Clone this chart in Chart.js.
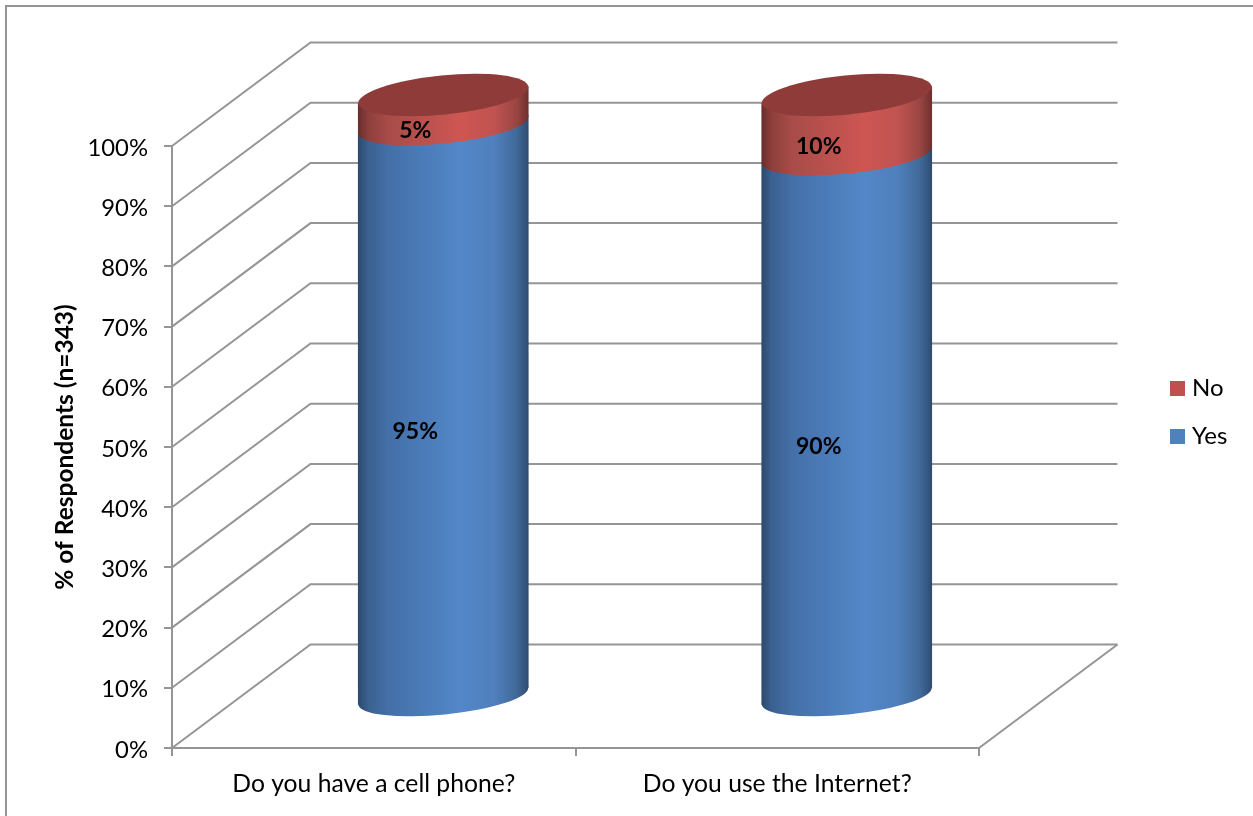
<!DOCTYPE html>
<html><head><meta charset="utf-8">
<style>html,body{margin:0;padding:0;background:#fff;overflow:hidden}canvas{display:block}</style>
<script src="https://cdn.jsdelivr.net/npm/chart.js@4/dist/chart.umd.min.js"></script>
</head><body>
<canvas id="c" width="1253" height="816"></canvas>
<script>
const categories = ['Do you have a cell phone?', 'Do you use the Internet?'];
const yesValues = [95, 90];
const noValues = [5, 10];
const yTitle = '% of Respondents (n=343)';
const legendColors = ['#4f81bd', '#c0504d'];

const FONT = 'Lato';
const GRID = '#959595';
const DEPTH_X = 138.5, DEPTH_Y = 103.5;  // wall depth
const BAR_DX = 69.5, BAR_DY = -51;       // bar sits mid-depth
const SHEAR = -0.1, BAR_W = 170, MINOR = 18.5;

function cylGrad(chart, cx, stops) {
  const g = chart.ctx.createLinearGradient(cx - BAR_W/2, 0, cx + BAR_W/2, 0);
  stops.forEach(s => g.addColorStop(s[0], s[1]));
  return g;
}
const blueStops = [[0,'#2c4a6e'],[0.06,'#3a6190'],[0.18,'#4470a8'],[0.6,'#5387c8'],[0.8,'#4f7fbc'],[0.93,'#416a9a'],[1,'#2e4c72']];
const redStops  = [[0,'#6a2d2b'],[0.06,'#8e3f3c'],[0.18,'#a84c49'],[0.6,'#cd5652'],[0.8,'#c05350'],[0.93,'#9a4643'],[1,'#6f302e']];

function fill(stops, solid) {
  return ctx => {
    if (ctx.type !== 'data') return solid;
    const cx = ctx.chart.scales.x.getPixelForValue(ctx.dataIndex);
    return Number.isFinite(cx) ? cylGrad(ctx.chart, cx, stops) : solid;
  };
}

const cylinder3d = {
  id: 'cylinder3d',
  beforeDraw(chart) {
    const c = chart.ctx;
    c.save();
    c.strokeStyle = GRID; c.lineWidth = 2;
    c.beginPath(); c.moveTo(6, 816); c.lineTo(6, 6); c.lineTo(1253, 6); c.stroke();
    c.restore();
  },
  afterLayout(chart) {
    const l = chart.legend;
    l.left = 1151; l.top = 352.5;
    l.right = 1253; l.bottom = 500;
  },
  beforeDatasetsDraw(chart) {
    const c = chart.ctx, y = chart.scales.y, a = chart.chartArea;
    c.save();
    c.strokeStyle = GRID; c.lineWidth = 2; c.lineJoin = 'miter';
    y.ticks.forEach(t => {
      const p = y.getPixelForValue(t.value);
      c.beginPath();
      c.moveTo(a.left, p);
      c.lineTo(a.left + DEPTH_X, p - DEPTH_Y);
      c.lineTo(a.right + DEPTH_X, p - DEPTH_Y);
      c.stroke();
    });
    c.beginPath();
    c.moveTo(a.right, a.bottom);
    c.lineTo(a.right + DEPTH_X, a.bottom - DEPTH_Y);
    c.stroke();
    c.restore();
  },
  beforeDatasetDraw() { return false; },
  afterDatasetsDraw(chart) {
    const c = chart.ctx;
    const rot = Math.atan(SHEAR), hw = BAR_W/2, major = hw / Math.cos(rot);
    const metas = chart.data.datasets.map((d, i) => chart.getDatasetMeta(i));
    c.save();
    c.translate(BAR_DX, BAR_DY);
    metas.forEach(meta => {
      meta.data.forEach(el => {
        const stops = meta.index === 0 ? blueStops : redStops;
        c.save();
        c.transform(1, SHEAR, 0, 1, 0, -SHEAR * el.x);
        el.draw(c);
        c.restore();
        c.fillStyle = cylGrad(chart, el.x, stops);
        c.beginPath();
        c.ellipse(el.x, el.base, major, MINOR, rot, 0, Math.PI, false);
        // overlap the bar body a little so no seam shows along the chord
        c.lineTo(el.x - hw, el.base - SHEAR * hw - 2);
        c.lineTo(el.x + hw, el.base + SHEAR * hw - 2);
        c.closePath();
        c.fill();
      });
    });
    const top = metas[metas.length - 1];
    top.data.forEach(el => {
      c.fillStyle = '#8e3b39';
      c.beginPath();
      c.ellipse(el.x, el.y, major, MINOR + 1, rot, 0, Math.PI * 2);
      c.fill();
    });
    c.fillStyle = '#000';
    c.font = 'bold 23px ' + FONT;
    c.textAlign = 'center'; c.textBaseline = 'middle';
    metas.forEach(meta => {
      meta.data.forEach((el, i) => {
        const v = chart.data.datasets[meta.index].data[i];
        c.fillText(v + '%', el.x - 28, (el.y + el.base) / 2 + 21);
      });
    });
    c.restore();
  }
};

new Chart(document.getElementById('c'), {
  type: 'bar',
  data: {
    labels: categories,
    datasets: [
      { label: 'Yes', data: yesValues, backgroundColor: fill(blueStops, legendColors[0]), borderWidth: 0, barThickness: BAR_W, clip: false },
      { label: 'No', data: noValues, backgroundColor: fill(redStops, legendColors[1]), borderWidth: 0, barThickness: BAR_W, clip: false }
    ]
  },
  plugins: [cylinder3d],
  options: {
    responsive: false,
    animation: false,
    layout: { padding: { left: 50, top: 146, right: 274, bottom: 0 } },
    plugins: {
      tooltip: { enabled: false },
      legend: {
        position: 'chartArea',
        align: 'start',
        reverse: true,
        labels: {
          usePointStyle: true, pointStyle: 'rect', boxWidth: 5, boxHeight: 15, padding: 24, color: '#000',
          font: { family: FONT, size: 24, lineHeight: 1 },
          generateLabels(chart) {
            return Chart.defaults.plugins.legend.labels.generateLabels(chart).map(item => {
              item.fillStyle = legendColors[item.datasetIndex];
              item.strokeStyle = legendColors[item.datasetIndex];
              item.lineWidth = 0;
              return item;
            });
          }
        }
      }
    },
    scales: {
      x: {
        stacked: true,
        afterFit(s) { s.height = 68; },
        border: { color: GRID, width: 2 },
        grid: { drawOnChartArea: false, color: GRID, lineWidth: 2, tickLength: 8 },
        ticks: { color: '#000', padding: 13, maxRotation: 0, font: { family: FONT, size: 24.7 } }
      },
      y: {
        stacked: true,
        min: 0, max: 100,
        afterFit(s) { s.width = 122; },
        border: { color: GRID, width: 2 },
        grid: { drawOnChartArea: false, color: GRID, lineWidth: 2, tickLength: 8 },
        ticks: { stepSize: 10, color: '#000', padding: 16, labelOffset: 2, callback: v => v + '%', font: { family: FONT, size: 23.8 } },
        title: { display: true, text: yTitle, color: '#000', padding: { top: 0, bottom: 0 }, font: { family: FONT, size: 24.5, weight: 'bold' } }
      }
    }
  }
});
</script>
</body></html>
